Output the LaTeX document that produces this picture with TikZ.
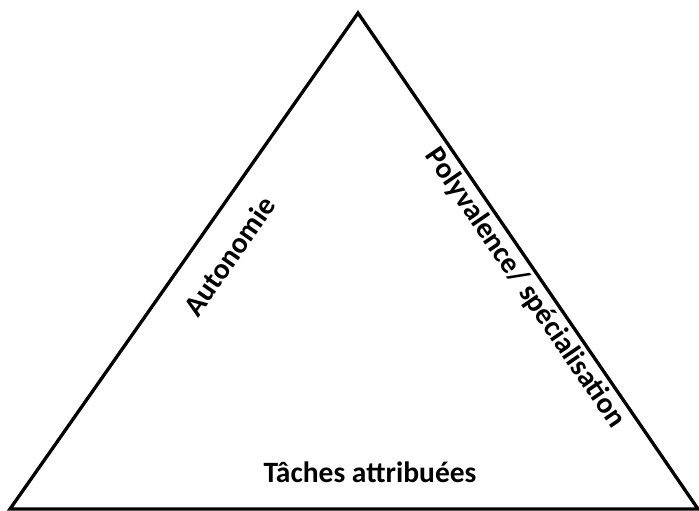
\documentclass[tikz,border=0pt]{standalone}
\usepackage{fontspec}
\setmainfont{Carlito}
\usepackage{tikz}

\begin{document}
\begin{tikzpicture}[x=1pt,y=-1pt,
        edge/.style={line width=3.3pt, line join=miter},
        label/.style={font=\fontsize{29.5}{34}\selectfont\bfseries, inner sep=0pt}]
        \useasboundingbox (0,0) rectangle (699,511);

        \coordinate (left) at (10,509);
        \coordinate (top) at (358,13);
        \coordinate (right) at (698,509);
        \draw[edge] (left) -- (top) -- (right) -- cycle;

        \node[label, rotate=55] (auto) at (229,256) {Autonomie};
        \node[label, rotate=-55.6] (poly) at (525,288) {Polyvalence/ spécialisation};
        \node[label, anchor=base] (taches) at (370,482) {Tâches attribuées};
      \end{tikzpicture}
\end{document}
